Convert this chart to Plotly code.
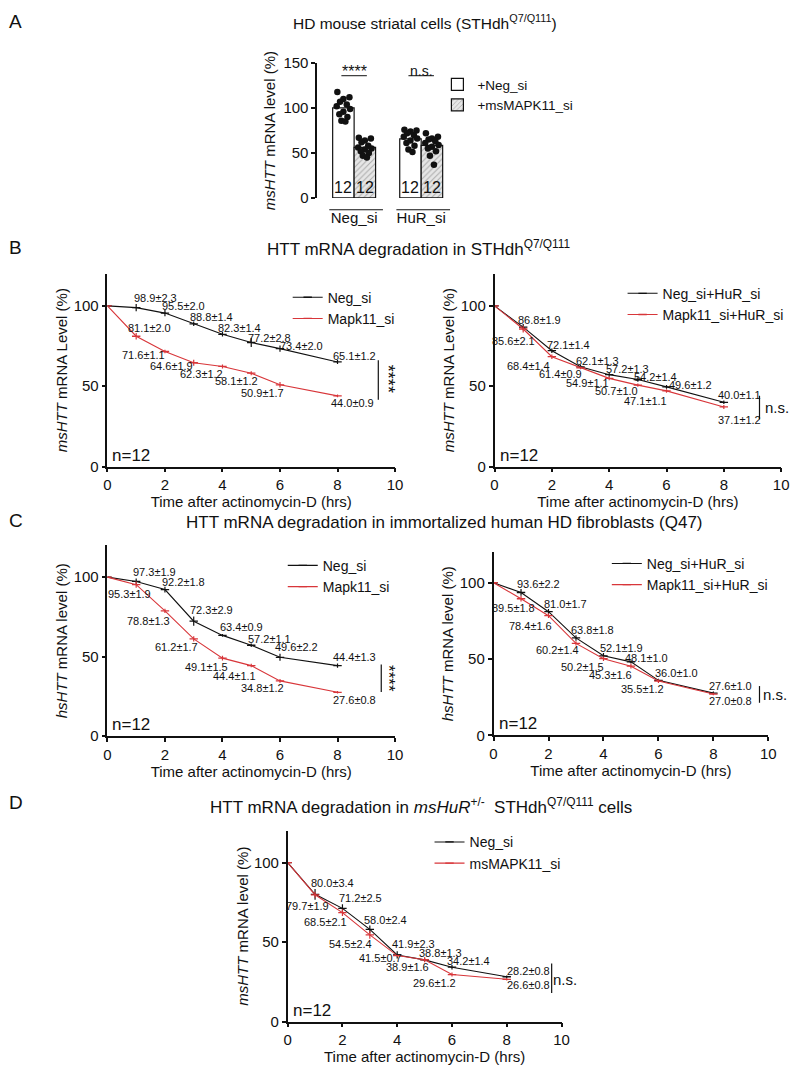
import plotly.graph_objects as go

W, H = 800, 1068
FONT = "Liberation Sans, Arial, Helvetica, sans-serif"
INK = "#111111"
RED = "#d8363a"

# ---------------- Data ----------------
# Panel A : msHTT mRNA level (%), 12 replicates per bar
A_GROUPS = ["Neg_si", "HuR_si"]
A_SERIES = ["+Neg_si", "+msMAPK11_si"]
A_NEGSI_NEG = [118, 112, 110, 107, 104, 102, 99, 96, 93, 90, 86, 85]
A_NEGSI_MAPK = [67, 66, 64, 62, 58, 56, 55, 54, 52, 50, 47, 45]
A_HURSI_NEG = [76, 75, 74, 72, 70, 68, 66, 64, 61, 58, 54, 51]
A_HURSI_MAPK = [72, 68, 66, 65, 63, 61, 59, 57, 55, 52, 47, 37]

TIMES = [0, 1, 2, 3, 4, 5, 6, 8]
N_REP = 12

# Panel B left (STHdh)
B1_NEG = [100, 98.9, 95.5, 88.8, 82.3, 77.2, 73.4, 65.1]
B1_NEG_ERR = [0, 2.3, 2.0, 1.4, 1.4, 2.8, 2.0, 1.2]
B1_MAPK = [100, 81.1, 71.6, 64.6, 62.3, 58.1, 50.9, 44.0]
B1_MAPK_ERR = [0, 2.0, 1.1, 1.9, 1.2, 1.2, 1.7, 0.9]
# Panel B right (+HuR_si)
B2_NEG = [100, 86.8, 72.1, 62.1, 57.2, 54.2, 49.6, 40.0]
B2_NEG_ERR = [0, 1.9, 1.4, 1.3, 1.3, 1.4, 1.2, 1.1]
B2_MAPK = [100, 85.6, 68.4, 61.4, 54.9, 50.7, 47.1, 37.1]
B2_MAPK_ERR = [0, 2.1, 1.4, 0.9, 1.1, 1.0, 1.1, 1.2]
# Panel C left (human fibroblasts)
C1_NEG = [100, 97.3, 92.2, 72.3, 63.4, 57.2, 49.6, 44.4]
C1_NEG_ERR = [0, 1.9, 1.8, 2.9, 0.9, 1.1, 2.2, 1.3]
C1_MAPK = [100, 95.3, 78.8, 61.2, 49.1, 44.4, 34.8, 27.6]
C1_MAPK_ERR = [0, 1.9, 1.3, 1.7, 1.5, 1.1, 1.2, 0.8]
# Panel C right (+HuR_si)
C2_NEG = [100, 93.6, 81.0, 63.8, 52.1, 48.1, 36.0, 27.6]
C2_NEG_ERR = [0, 2.2, 1.7, 1.8, 1.9, 1.0, 1.0, 1.0]
C2_MAPK = [100, 89.5, 78.4, 60.2, 50.2, 45.3, 35.5, 27.0]
C2_MAPK_ERR = [0, 1.8, 1.6, 1.4, 1.5, 1.6, 1.2, 0.8]
# Panel D (msHuR+/-)
D_NEG = [100, 80.0, 71.2, 58.0, 41.9, 38.8, 34.2, 28.2]
D_NEG_ERR = [0, 3.4, 2.5, 2.4, 2.3, 1.3, 1.4, 0.8]
D_MAPK = [100, 79.7, 68.5, 54.5, 41.5, 38.9, 29.6, 26.6]
D_MAPK_ERR = [0, 1.9, 2.1, 2.4, 0.7, 1.6, 1.2, 0.8]

# ---------------- Layout helpers (pixel -> paper) ----------------
def xd(a, b):
    return [a / W, b / W]


def yd(top, bot):
    return [1 - bot / H, 1 - top / H]


def PX(x):
    return x / W


def PY(y):
    return 1 - y / H


axis_common = dict(showline=True, linecolor=INK, linewidth=1.5, ticks="outside",
                   ticklen=4, tickwidth=1.5, tickcolor=INK, showgrid=False,
                   zeroline=False, tickfont=dict(size=15, color=INK, family=FONT))

fig = go.Figure()
layout = dict(width=W, height=H, margin=dict(l=0, r=0, t=0, b=0),
              paper_bgcolor="white", plot_bgcolor="rgba(0,0,0,0)",
              font=dict(family=FONT, color=INK), barmode="overlay",
              showlegend=True)
annotations = []
shapes = []

# ---------------- Panel A ----------------
BAR_OFF = 0.16
BAR_W = 0.32
neg_groups = [A_NEGSI_NEG, A_HURSI_NEG]
mapk_groups = [A_NEGSI_MAPK, A_HURSI_MAPK]


def mean(v):
    return sum(v) / len(v)


fig.add_trace(go.Bar(
    x=[g - BAR_OFF for g in range(len(A_GROUPS))], y=[mean(v) for v in neg_groups],
    width=BAR_W, name=A_SERIES[0], legend="legend",
    marker=dict(color="white", line=dict(color=INK, width=1.2)),
    xaxis="x", yaxis="y"))
fig.add_trace(go.Bar(
    x=[g + BAR_OFF for g in range(len(A_GROUPS))], y=[mean(v) for v in mapk_groups],
    width=BAR_W, name=A_SERIES[1], legend="legend",
    marker=dict(color="#e6e6e6", line=dict(color=INK, width=1.2),
                pattern=dict(shape="/", fgcolor="#6e6e6e", bgcolor="#e6e6e6",
                             size=4, solidity=0.25)),
    xaxis="x", yaxis="y"))

JIT = [-0.09, 0.09, 0.0, -0.05, 0.05, -0.1, 0.1, 0.0, -0.06, 0.06, -0.03, 0.03]


def swarm(center, vals):
    order = sorted(range(len(vals)), key=lambda i: -vals[i])
    xs = [0.0] * len(vals)
    for rank, i in enumerate(order):
        xs[i] = center + JIT[rank % len(JIT)]
    return xs


for g in range(len(A_GROUPS)):
    for off, vals in ((-BAR_OFF, neg_groups[g]), (BAR_OFF, mapk_groups[g])):
        fig.add_trace(go.Scatter(
            x=swarm(g + off, vals), y=vals, mode="markers", showlegend=False,
            marker=dict(color=INK, size=6.5), xaxis="x", yaxis="y",
            hoverinfo="skip"))
        annotations.append(dict(
            xref="x", yref="y", x=g + off, y=0, text=str(len(vals)),
            showarrow=False, yanchor="bottom", yshift=0,
            font=dict(size=16, color=INK)))

layout["xaxis"] = dict(domain=xd(318, 461), range=[-0.55, 1.55], anchor="y",
                       showline=False, ticks="", showgrid=False, zeroline=False,
                       tickvals=list(range(len(A_GROUPS))), ticktext=A_GROUPS,
                       ticklabelstandoff=9,
                       tickfont=dict(size=15, color=INK, family=FONT))
layout["yaxis"] = dict(domain=yd(55, 192), range=[0, 150],
                       tickvals=[0, 50, 100, 150], anchor="x",
                       title=dict(text="<i>msHTT</i> mRNA level (%)", standoff=4,
                                  font=dict(size=15, color=INK, family=FONT)),
                       **axis_common)
layout["legend"] = dict(x=PX(440), y=PY(87.5), xanchor="left", yanchor="middle",
                        bgcolor="rgba(0,0,0,0)", font=dict(size=13.5, color=INK),
                        tracegroupgap=0)

# significance in A
annotations.append(dict(xref="x", yref="y", x=0, y=141, text="****", showarrow=False,
                        font=dict(size=16, color=INK)))
annotations.append(dict(xref="x", yref="y", x=1, y=141, text="n.s.", showarrow=False,
                        font=dict(size=14, color=INK)))
for g in range(len(A_GROUPS)):
    shapes.append(dict(type="line", xref="x", yref="y", x0=g - 0.19, x1=g + 0.19,
                       y0=136, y1=136, line=dict(color=INK, width=1)))
    shapes.append(dict(type="line", xref="x", yref="paper", x0=g - 0.37, x1=g + 0.43,
                       y0=PY(204), y1=PY(204), line=dict(color=INK, width=1)))

# ---------------- Line panels ----------------
LABEL_SHIFTS = {
    "B1n": [(19, -10), (19, -7), (18, -7), (17, -6), (18, -5), (22, -3), (17, -6)],
    "B1m": [(13, -8), (-21, 3), (-22, 3), (-21, 8), (-15, 8), (-17, 8), (15, 7)],
    "B2n": [(16, -7), (17, -6), (17, -6), (18, -6), (18, -2), (24, -2), (16, -7)],
    "B2m": [(-10, 12), (-23, 9), (-20, 6), (-22, 5), (-21, 6), (-21, 10), (16, 13)],
    "C1n": [(18, -9), (19, -8), (18, -11), (19, -8), (18, -6), (17, -10), (17, -9)],
    "C1m": [(-7, 9), (-16, 10), (-17, 8), (-16, 9), (-17, 10), (-17, 7), (17, 8)],
    "C2n": [(17, -8), (17, -8), (17, -8), (18, -8), (16, -4), (18, -7), (17, -7)],
    "C2m": [(-8, 9), (-18, 10), (-18, 7), (-21, 8), (-20, 9), (-16, 8), (17, 7)],
    "Dn": [(17, -11), (18, -10), (16, -9), (16, -11), (16, -7), (17, -6), (22, -6)],
    "Dm": [(-8, 11), (-17, 9), (-19, 9), (-17, 2), (-17, 7), (-17, 8), (22, 6)],
}

PANELS = [
    dict(idx=2, legend="legend2", ytitle="<i>msHTT</i> mRNA Level (%)",
         xdom=(105, 397), ydom=(269, 465), leg=(288, 304),
         series=[("Neg_si", B1_NEG, B1_NEG_ERR, INK, "B1n"),
                 ("Mapk11_si", B1_MAPK, B1_MAPK_ERR, RED, "B1m")]),
    dict(idx=3, legend="legend3", ytitle="<i>msHTT</i> mRNA Level (%)",
         xdom=(498, 789), ydom=(269, 465), leg=(628, 300),
         series=[("Neg_si+HuR_si", B2_NEG, B2_NEG_ERR, INK, "B2n"),
                 ("Mapk11_si+HuR_si", B2_MAPK, B2_MAPK_ERR, RED, "B2m")]),
    dict(idx=4, legend="legend4", ytitle="<i>hsHTT</i> mRNA level (%)",
         xdom=(105, 397), ydom=(545, 739), leg=(283, 576.5),
         series=[("Neg_si", C1_NEG, C1_NEG_ERR, INK, "C1n"),
                 ("Mapk11_si", C1_MAPK, C1_MAPK_ERR, RED, "C1m")]),
    dict(idx=5, legend="legend5", ytitle="<i>hsHTT</i> mRNA level (%)",
         xdom=(497, 776), ydom=(552, 738), leg=(612, 574.5),
         series=[("Neg_si+HuR_si", C2_NEG, C2_NEG_ERR, INK, "C2n"),
                 ("Mapk11_si+HuR_si", C2_MAPK, C2_MAPK_ERR, RED, "C2m")]),
    dict(idx=6, legend="legend6", ytitle="<i>msHTT</i> mRNA level (%)",
         xdom=(288, 566), ydom=(835, 1029), leg=(432, 857.5),
         series=[("Neg_si", D_NEG, D_NEG_ERR, INK, "Dn"),
                 ("msMAPK11_si", D_MAPK, D_MAPK_ERR, RED, "Dm")]),
]

for p in PANELS:
    i = p["idx"]
    xa, ya = f"x{i}", f"y{i}"
    for name, vals, errs, color, key in p["series"]:
        fig.add_trace(go.Scatter(
            x=TIMES, y=vals, name=name, legend=p["legend"], mode="lines+markers",
            line=dict(color=color, width=1.1),
            marker=dict(symbol="line-ew", size=6, color=color,
                        line=dict(color=color, width=1.3)),
            error_y=dict(type="data", array=errs, visible=True, color=color,
                         thickness=1.2, width=0),
            xaxis=xa, yaxis=ya))
        shifts = LABEL_SHIFTS[key]
        for k in range(1, len(TIMES)):
            dx, dy = shifts[k - 1]
            annotations.append(dict(
                xref=xa, yref=ya, x=TIMES[k], y=vals[k],
                text=f"{vals[k]:.1f}±{errs[k]:.1f}", showarrow=False,
                xshift=dx, yshift=-dy, font=dict(size=11, color=INK)))
    layout[f"xaxis{i}"] = dict(domain=xd(*p["xdom"]), range=[0, 10],
                               tickvals=[0, 2, 4, 6, 8, 10], anchor=ya,
                               title=dict(text="Time after actinomycin-D (hrs)", standoff=2,
                                          font=dict(size=15, color=INK, family=FONT)),
                               **axis_common)
    layout[f"yaxis{i}"] = dict(domain=yd(*p["ydom"]), range=[0, 120],
                               tickvals=[0, 50, 100], anchor=xa,
                               title=dict(text=p["ytitle"], standoff=2,
                                          font=dict(size=15, color=INK, family=FONT)),
                               **axis_common)
    layout[p["legend"]] = dict(x=PX(p["leg"][0]), y=PY(p["leg"][1]), xanchor="left",
                               yanchor="middle", bgcolor="rgba(0,0,0,0)",
                               font=dict(size=14, color=INK), tracegroupgap=0)
    annotations.append(dict(xref=xa, yref=ya, x=0, y=0, text=f"n={N_REP}",
                            showarrow=False, xanchor="left", yanchor="bottom",
                            xshift=3, yshift=0, font=dict(size=17, color=INK)))

# significance markers on line panels (decorations, pixel placed)
SIG = [
    ("****", 380, 357, 397, 390, 376, 90, 18),
    ("n.s.", 767, 393, 417, 785, 405, 0, 15),
    ("****", 383, 666, 694, 391, 680, 90, 17),
    ("n.s.", 767, 688, 705, 783, 697, 0, 15),
    ("n.s.", 556, 970, 1000, 570, 986, 0, 15),
]
for txt, lx, ly0, ly1, tx, ty, ang, fs in SIG:
    shapes.append(dict(type="line", xref="paper", yref="paper", x0=PX(lx), x1=PX(lx),
                       y0=PY(ly0), y1=PY(ly1), line=dict(color=INK, width=1.2)))
    annotations.append(dict(xref="paper", yref="paper", x=PX(tx), y=PY(ty), text=txt,
                            textangle=ang, showarrow=False, xanchor="center",
                            yanchor="middle", font=dict(size=fs, color=INK)))

# titles and panel letters
TITLES = [
    ("HD mouse striatal cells (STHdh<sup>Q7/Q111</sup>)", 427, 13, 15.5),
    ("HTT mRNA degradation in STHdh<sup>Q7/Q111</sup>", 421, 243, 17),
    ("HTT mRNA degradation in immortalized human HD fibroblasts (Q47)", 447, 522, 17),
    ("HTT mRNA degradation in <i>msHuR</i><sup>+/-</sup>  STHdh<sup>Q7/Q111</sup> cells",
     423, 810, 17),
]
for txt, x, y, fs in TITLES:
    annotations.append(dict(xref="paper", yref="paper", x=PX(x), y=PY(y), text=txt,
                            showarrow=False, xanchor="center", yanchor="middle",
                            font=dict(size=fs, color=INK)))
for letter, y in (("A", 13), ("B", 242), ("C", 520), ("D", 806)):
    annotations.append(dict(xref="paper", yref="paper", x=PX(3), y=PY(y), text=letter,
                            showarrow=False, xanchor="left", yanchor="middle",
                            font=dict(size=19, color=INK)))

layout["annotations"] = annotations
layout["shapes"] = shapes
fig.update_layout(**layout)
fig.write_html("out.html", config={"displayModeBar": False},
               post_script="document.body.style.margin='0';document.body.style.padding='0';")
